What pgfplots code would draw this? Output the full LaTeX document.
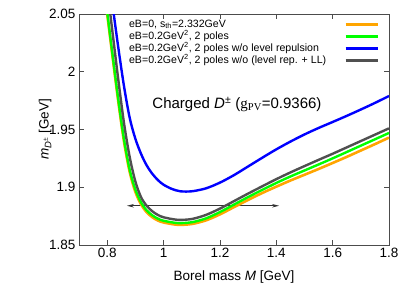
\documentclass[border=0pt]{standalone}
\usepackage{fontspec}
\setmainfont{Liberation Sans}
\newfontfamily\timesf{Liberation Serif}
\usepackage{pgfplots}
\pgfplotsset{compat=1.18}
\usetikzlibrary{arrows.meta}
\definecolor{corange}{RGB}{255,165,0}
\definecolor{cgreen}{RGB}{0,255,0}
\definecolor{cblue}{RGB}{0,0,255}
\definecolor{cgray}{RGB}{80,80,80}

\pgfplotstableread{
M m
0.79 2.092
0.80 2.072
0.82 2.032
0.84 1.992
0.86 1.955
0.88 1.926
0.90 1.905
0.92 1.8915
0.94 1.8840
0.96 1.8792
0.98 1.8760
1.00 1.8740
1.05 1.8718
1.10 1.8725
1.15 1.8760
1.20 1.8815
1.25 1.8880
1.30 1.8945
1.35 1.9008
1.40 1.9070
1.45 1.9128
1.50 1.9183
1.55 1.9237
1.60 1.9290
1.65 1.9345
1.70 1.9400
1.75 1.9455
1.80 1.9510
}\grayd

\pgfplotstableread{
M m
0.78 2.092
0.80 2.052
0.82 2.013
0.84 1.975
0.86 1.941
0.88 1.915
0.90 1.898
0.92 1.8870
0.94 1.8800
0.96 1.8757
0.98 1.8728
1.00 1.8710
1.05 1.8690
1.10 1.8697
1.15 1.8730
1.20 1.8785
1.25 1.8850
1.30 1.8915
1.35 1.8977
1.40 1.9037
1.45 1.9093
1.50 1.9145
1.55 1.9197
1.60 1.9250
1.65 1.9305
1.70 1.9360
1.75 1.9415
1.80 1.9470
}\greend

\pgfplotstableread{
M m
0.78 2.090
0.80 2.050
0.82 2.011
0.84 1.973
0.86 1.939
0.88 1.913
0.90 1.896
0.92 1.8852
0.94 1.8784
0.96 1.8741
0.98 1.8712
1.00 1.8695
1.05 1.8675
1.10 1.8682
1.15 1.8713
1.20 1.8765
1.25 1.8828
1.30 1.8890
1.35 1.8950
1.40 1.9005
1.45 1.9058
1.50 1.9108
1.55 1.9158
1.60 1.9210
1.65 1.9263
1.70 1.9318
1.75 1.9373
1.80 1.9430
}\oranged

\pgfplotstableread{
M m
0.80 2.094
0.82 2.056
0.84 2.020
0.86 1.987
0.88 1.960
0.90 1.942
0.92 1.9290
0.94 1.9190
0.96 1.9117
0.98 1.9062
1.00 1.9022
1.03 1.8985
1.06 1.8965
1.10 1.8965
1.15 1.8990
1.20 1.9040
1.25 1.9105
1.30 1.9180
1.35 1.9255
1.40 1.9328
1.45 1.9395
1.50 1.9457
1.55 1.9513
1.60 1.9565
1.65 1.9618
1.70 1.9673
1.75 1.9730
1.80 1.9790
}\blued

\begin{document}
\begin{tikzpicture}
\begin{axis}[
  name=ax,
  scale only axis, width=310bp, height=231bp,
  xmin=0.7, xmax=1.8, ymin=1.85, ymax=2.05,
  xtick={0.8,1,1.2,1.4,1.6,1.8},
  xticklabels={0.8,1,1.2,1.4,1.6,1.8},
  ytick={1.85,1.9,1.95,2,2.05},
  yticklabels={1.85,1.9,1.95,2,2.05},
  tick align=inside, tick pos=both, major tick length=5bp,
  axis line style={black!70, line width=0.8bp},
  tick style={black!70, line width=0.8bp},
  ticklabel style={font=\fontsize{13.5bp}{16bp}\selectfont},
  xlabel={Borel mass \textit{M} [GeV]},
  ylabel={\textit{m}\textsubscript{\textit{D}\textsuperscript{±}} [GeV]},
  label style={font=\fontsize{13.5bp}{16bp}\selectfont},
  xlabel style={yshift=-6bp},
  ylabel style={yshift=-9bp},
  legend plot pos=right,
  legend cell align=left,
  legend image code/.code={\draw[#1] (0bp,0bp) -- (32bp,0bp);},
  legend style={at={(1,1)}, anchor=north east, xshift=-7bp, yshift=-2bp,
    draw=none, fill=none, font=\fontsize{10.6bp}{12bp}\selectfont,
    column sep=17.5bp,
    nodes={text height=8.5bp, text depth=2.6bp, inner sep=0.5bp}},
]
\addplot[black!80, line width=1bp, {Stealth[length=7bp,width=3.5bp]}-{Stealth[length=7bp,width=3.5bp]}, forget plot] coordinates {(0.87,1.884) (1.41,1.884)};
\addplot[corange, line width=2.6bp, smooth] table[x=M,y=m] {\oranged};
\addlegendentry{eB=0, s\textsubscript{th}=2.332GeV}
\addplot[cgreen, line width=2.4bp, smooth] table[x=M,y=m] {\greend};
\addlegendentry{eB=0.2GeV\textsuperscript{2}, 2 poles}
\addplot[cblue, line width=2.4bp, smooth] table[x=M,y=m] {\blued};
\addlegendentry{eB=0.2GeV\textsuperscript{2}, 2 poles w/o level repulsion}
\addplot[cgray, line width=2.4bp, smooth] table[x=M,y=m] {\grayd};
\addlegendentry{eB=0.2GeV\textsuperscript{2}, 2 poles w/o (level rep. + LL)}
\node[anchor=base west, inner sep=0, font=\fontsize{15bp}{17bp}\selectfont] at (axis cs:0.96,1.968) {Charged \textit{D}\textsuperscript{±} ({\timesf g\textsubscript{PV}}=0.9366)};
\end{axis}
\pgfresetboundingbox
\path[use as bounding box] ([shift={(-79bp,-46bp)}]ax.south west) rectangle ([shift={(26bp,14bp)}]ax.north east);
\end{tikzpicture}
\end{document}
